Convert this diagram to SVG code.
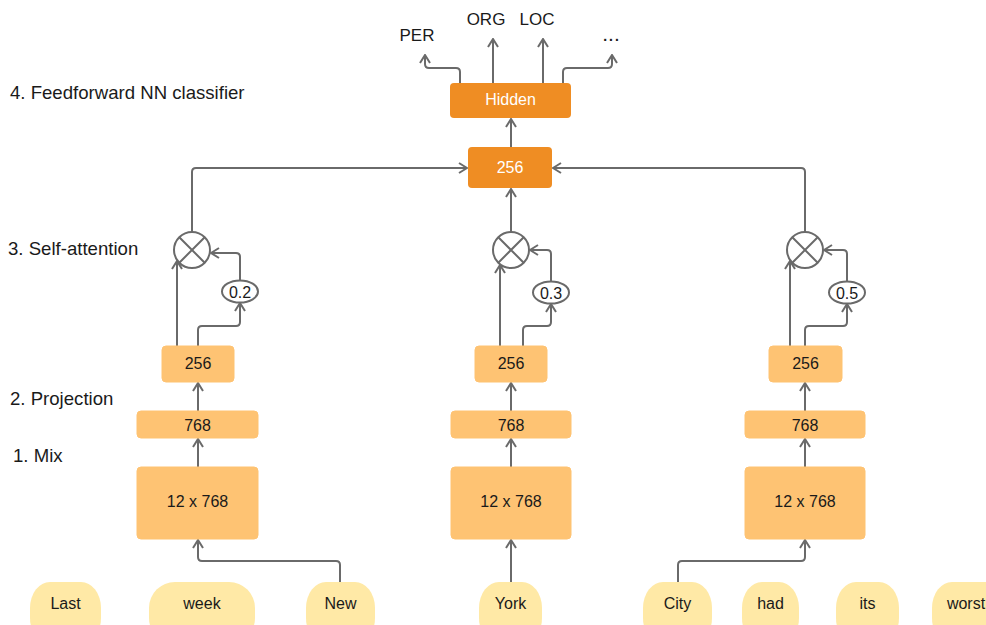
<svg xmlns="http://www.w3.org/2000/svg" width="986" height="625" viewBox="0 0 986 625">
<style>
text{font-family:"Liberation Sans",Arial,sans-serif;fill:#1a1a1a;text-anchor:middle;dominant-baseline:central}
.lab{text-anchor:start;font-size:18.6px}
.lo{fill:#FEC373;stroke:#FEC373}
.dk{fill:#EF8D23}
.tok{fill:#FFE9A6}
.c{fill:none;stroke:#6a6a6a;stroke-width:2}
.bx{font-size:16px}
.w{fill:#fff;font-size:16px}
.out{font-size:17px}
.mul{fill:#fff;stroke:#6a6a6a;stroke-width:2}
.wt{font-size:16px}
</style>
<defs>
<marker id="a" viewBox="0 0 10 12" refX="9" refY="6" markerWidth="10" markerHeight="12" markerUnits="userSpaceOnUse" orient="auto">
<path d="M1,1 L9,6 L1,11" fill="none" stroke="#6a6a6a" stroke-width="2"/>
</marker>
</defs>
<rect width="986" height="625" fill="#fff"/>

<g id="labels">
<text class="lab" x="10" y="92">4. Feedforward NN classifier</text>
<text class="lab" x="8" y="248">3. Self-attention</text>
<text class="lab" x="10" y="398">2. Projection</text>
<text class="lab" x="13" y="455">1. Mix</text>
</g>

<g id="connectors" class="c" marker-end="url(#a)">
<path d="M340,582 V565 Q340,561 336,561 H202 Q198,561 198,557 V540"/>
<path d="M198,467 V439"/>
<path d="M198,411 V383"/>
<path d="M177,346 V261"/>
<path d="M198,346 V330 Q198,326 202,326 H236 Q240,326 240,322 V303"/>
<path d="M240,280 V257 Q240,253 236,253 H211"/>
<path d="M192,232 V172 Q192,168 196,168 H467"/>

<path d="M511,582 V540"/>
<path d="M511,467 V439"/>
<path d="M511,411 V383"/>
<path d="M500,346 V265"/>
<path d="M523,346 V330 Q523,326 527,326 H547 Q551,326 551,322 V304"/>
<path d="M551,281 V254 Q551,250 547,250 H530"/>
<path d="M511,232 V189"/>

<path d="M678,582 V565 Q678,561 682,561 H801 Q805,561 805,557 V540"/>
<path d="M805,467 V439"/>
<path d="M805,411 V383"/>
<path d="M790,346 V261"/>
<path d="M805,346 V330 Q805,326 809,326 H843 Q847,326 847,322 V304"/>
<path d="M847,281 V254 Q847,250 843,250 H824"/>
<path d="M805,232 V172 Q805,168 801,168 H553"/>

<path d="M511,147 V119"/>
<path d="M460,83 V72 Q460,68 456,68 H429 Q425,68 425,64 V55"/>
<path d="M493,83 V39"/>
<path d="M543,83 V39"/>
<path d="M563,83 V72 Q563,68 567,68 H608 Q612,68 612,64 V55"/>
</g>

<g id="out-labels">
<text class="out" x="417" y="35">PER</text>
<text class="out" x="486" y="19">ORG</text>
<text class="out" x="537" y="19">LOC</text>
<text x="611" y="33" font-size="21px">...</text>
</g>

<g id="hidden"><rect class="dk" x="450" y="83" width="121" height="35" rx="4"/><text class="w" x="510.5" y="99.5">Hidden</text></g>
<g id="concat"><rect class="dk" x="468" y="147" width="84" height="41" rx="4"/><text class="w" x="510" y="167">256</text></g>

<g id="mul1"><circle class="mul" cx="192" cy="250" r="18"/><path class="c" d="M179.3,237.3 L204.7,262.7 M204.7,237.3 L179.3,262.7"/></g>
<g id="mul2"><circle class="mul" cx="511" cy="250" r="18"/><path class="c" d="M498.3,237.3 L523.7,262.7 M523.7,237.3 L498.3,262.7"/></g>
<g id="mul3"><circle class="mul" cx="805" cy="250" r="18"/><path class="c" d="M792.3,237.3 L817.7,262.7 M817.7,237.3 L792.3,262.7"/></g>

<g id="w1"><ellipse class="mul" cx="240" cy="291.5" rx="18" ry="11"/><text class="wt" x="240" y="292">0.2</text></g>
<g id="w2"><ellipse class="mul" cx="551" cy="292.5" rx="18" ry="11"/><text class="wt" x="551" y="293">0.3</text></g>
<g id="w3"><ellipse class="mul" cx="847" cy="292.5" rx="18" ry="11"/><text class="wt" x="847" y="293">0.5</text></g>

<g id="proj1"><rect class="lo" x="162" y="346" width="72" height="36" rx="4"/><text class="bx" x="198" y="363">256</text></g>
<g id="proj2"><rect class="lo" x="475" y="346" width="72" height="36" rx="4"/><text class="bx" x="511" y="363">256</text></g>
<g id="proj3"><rect class="lo" x="769" y="346" width="73" height="36" rx="4"/><text class="bx" x="805.5" y="363">256</text></g>

<g id="mix1"><rect class="lo" x="137" y="411" width="121" height="27" rx="4"/><text class="bx" x="197.5" y="425">768</text></g>
<g id="mix2"><rect class="lo" x="451" y="411" width="120" height="27" rx="4"/><text class="bx" x="511" y="425">768</text></g>
<g id="mix3"><rect class="lo" x="745" y="411" width="120" height="27" rx="4"/><text class="bx" x="805" y="425">768</text></g>

<g id="layers1"><rect class="lo" x="137" y="467" width="121" height="72" rx="4"/><text class="bx" x="197.5" y="501">12 x 768</text></g>
<g id="layers2"><rect class="lo" x="451" y="467" width="120" height="72" rx="4"/><text class="bx" x="511" y="501">12 x 768</text></g>
<g id="layers3"><rect class="lo" x="745" y="467" width="120" height="72" rx="4"/><text class="bx" x="805" y="501">12 x 768</text></g>

<g id="tok-last"><rect class="tok" x="30" y="582" width="71" height="62" rx="20" ry="26"/><text class="bx" x="65.5" y="603">Last</text></g>
<g id="tok-week"><rect class="tok" x="149" y="582" width="106" height="62" rx="26" ry="26"/><text class="bx" x="202" y="603">week</text></g>
<g id="tok-new"><rect class="tok" x="306" y="582" width="69" height="62" rx="20" ry="26"/><text class="bx" x="340.5" y="603">New</text></g>
<g id="tok-york"><rect class="tok" x="479" y="582" width="63" height="62" rx="20" ry="26"/><text class="bx" x="510.5" y="603">York</text></g>
<g id="tok-city"><rect class="tok" x="643" y="582" width="69" height="62" rx="20" ry="26"/><text class="bx" x="677.5" y="603">City</text></g>
<g id="tok-had"><rect class="tok" x="742" y="582" width="57" height="62" rx="20" ry="26"/><text class="bx" x="770.5" y="603">had</text></g>
<g id="tok-its"><rect class="tok" x="836" y="582" width="63" height="62" rx="20" ry="26"/><text class="bx" x="867.5" y="603">its</text></g>
<g id="tok-worst"><rect class="tok" x="932" y="582" width="80" height="62" rx="20" ry="26"/><text class="bx" x="966" y="603">worst</text></g>
</svg>
